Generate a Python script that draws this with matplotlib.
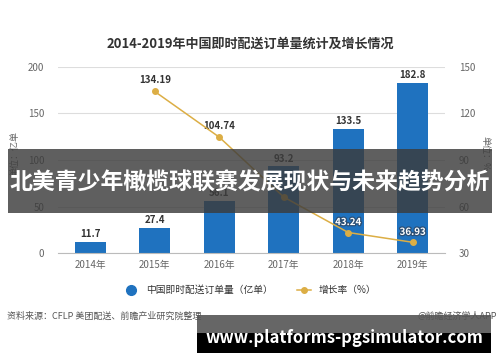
import matplotlib
matplotlib.use("Agg")
import matplotlib.pyplot as plt
from matplotlib.lines import Line2D
from matplotlib.patches import Rectangle
import matplotlib.patheffects as pe

plt.rcParams["font.family"] = ["Noto Sans CJK SC", "DejaVu Sans"]

years = ["2014年", "2015年", "2016年", "2017年", "2018年", "2019年"]
orders = [11.7, 27.4, 56.1, 93.2, 133.5, 182.8]
growth_years = ["2015年", "2016年", "2017年", "2018年", "2019年"]
growth = [134.19, 104.74, 66.1, 43.24, 36.93]

BAR_BLUE = "#1f72bf"
LINE_GOLD = "#dcae45"
TXT = "#333333"
TICK = "#666666"

fig = plt.figure(figsize=(5, 3.62), dpi=100)
fig.patch.set_facecolor("white")
ax = fig.add_axes([0.116, 0.301, 0.774, 0.514])
ax2 = ax.twinx()

x = list(range(len(years)))
ax.bar(x, orders, width=0.48, color=BAR_BLUE, zorder=2)
for i, v in enumerate(orders):
    ax.text(i, v + 3, f"{v:g}", ha="center", va="bottom", fontsize=7,
            fontweight="bold", color=TXT, zorder=3)

ax.set_xlim(-0.5, len(years) - 0.5)
ax.set_ylim(0, 200)
ax.set_yticks([0, 50, 100, 150, 200])
ax.grid(axis="y", color="#dddddd", linewidth=0.8, zorder=0)
ax.set_xticks(x)
ax.set_xticklabels(years)
ax.tick_params(axis="x", length=0, labelsize=7, colors=TICK, pad=5)
ax.tick_params(axis="y", length=0, labelsize=7, colors=TICK, pad=10)
for s in ["top", "right", "left"]:
    ax.spines[s].set_visible(False)
ax.spines["bottom"].set_color("#bbbbbb")

gx = [years.index(y) for y in growth_years]
ax2.plot(gx, growth, color=LINE_GOLD, linewidth=1.1, marker="o",
         markersize=4, zorder=4)
ax2.set_ylim(30, 150)
ax2.set_yticks([30, 60, 90, 120, 150])
ax2.tick_params(axis="y", length=0, labelsize=7, colors=TICK, pad=10)
for s in ax2.spines.values():
    s.set_visible(False)
for gi, v in zip(gx, growth):
    if v > 100:
        ax2.text(gi, v + 4, f"{v:.2f}", ha="center", va="bottom", fontsize=7,
                 fontweight="bold", color=TXT)
    elif v < 50:
        ax2.text(gi, v + 3.5, f"{v:.2f}", ha="center", va="bottom", fontsize=7,
                 fontweight="bold", color="white",
                 path_effects=[pe.withStroke(linewidth=1.8, foreground="#2b4f75")])

fig.text(0.03, 0.575, "单位：亿单", rotation=90, ha="center", va="center",
         fontsize=6.5, color=TICK)
fig.text(0.97, 0.575, "单位：%", rotation=-90, ha="center", va="center",
         fontsize=6.5, color=TICK)

fig.text(0.5, 0.88, "2014-2019年中国即时配送订单量统计及增长情况", ha="center",
         va="center", fontsize=9.4, fontweight="bold", color=TXT)

handles = [
    Line2D([], [], marker="o", linestyle="none", color=BAR_BLUE, markersize=7),
    Line2D([], [], marker="o", color=LINE_GOLD, markersize=4, linewidth=1.1),
]
fig.legend(handles, ["中国即时配送订单量（亿单）", "增长率（%）"], loc="center",
           bbox_to_anchor=(0.5, 0.198), ncol=2, frameon=False, fontsize=7,
           labelcolor=TXT, handlelength=1.5, columnspacing=2.5)

fig.text(0.014, 0.127, "资料来源：CFLP 美团配送、前瞻产业研究院整理", ha="left",
         va="center", fontsize=6.5, color="#555555")
fig.text(0.994, 0.127, "@前瞻经济学人APP", ha="right", va="center",
         fontsize=6.5, color="#555555")

# overlay banners
fig.patches.append(Rectangle((0.016, 1 - 213 / 362), 0.968, 64 / 362,
                             transform=fig.transFigure, facecolor="#3c3c3c",
                             alpha=0.82, zorder=10))
fig.text(0.5, 1 - 183 / 362, "北美青少年橄榄球联赛发展现状与未来趋势分析",
         ha="center", va="center", fontsize=16.5, fontweight="bold",
         color="white", zorder=11)
fig.patches.append(Rectangle((197 / 500, 1 - 333 / 362), 294 / 500, 18 / 362,
                             transform=fig.transFigure, facecolor="#555555",
                             alpha=0.9, zorder=10))
fig.patches.append(Rectangle((197 / 500, 1 - 353 / 362), 294 / 500, 20 / 362,
                             transform=fig.transFigure, facecolor="black",
                             zorder=10))
fig.text(344 / 500, 1 - 338 / 362, "www.platforms-pgsimulator.com",
         ha="center", va="center", fontsize=12, fontweight="bold",
         color="white", zorder=11)

fig.savefig("out.png", dpi=100, facecolor="white")
